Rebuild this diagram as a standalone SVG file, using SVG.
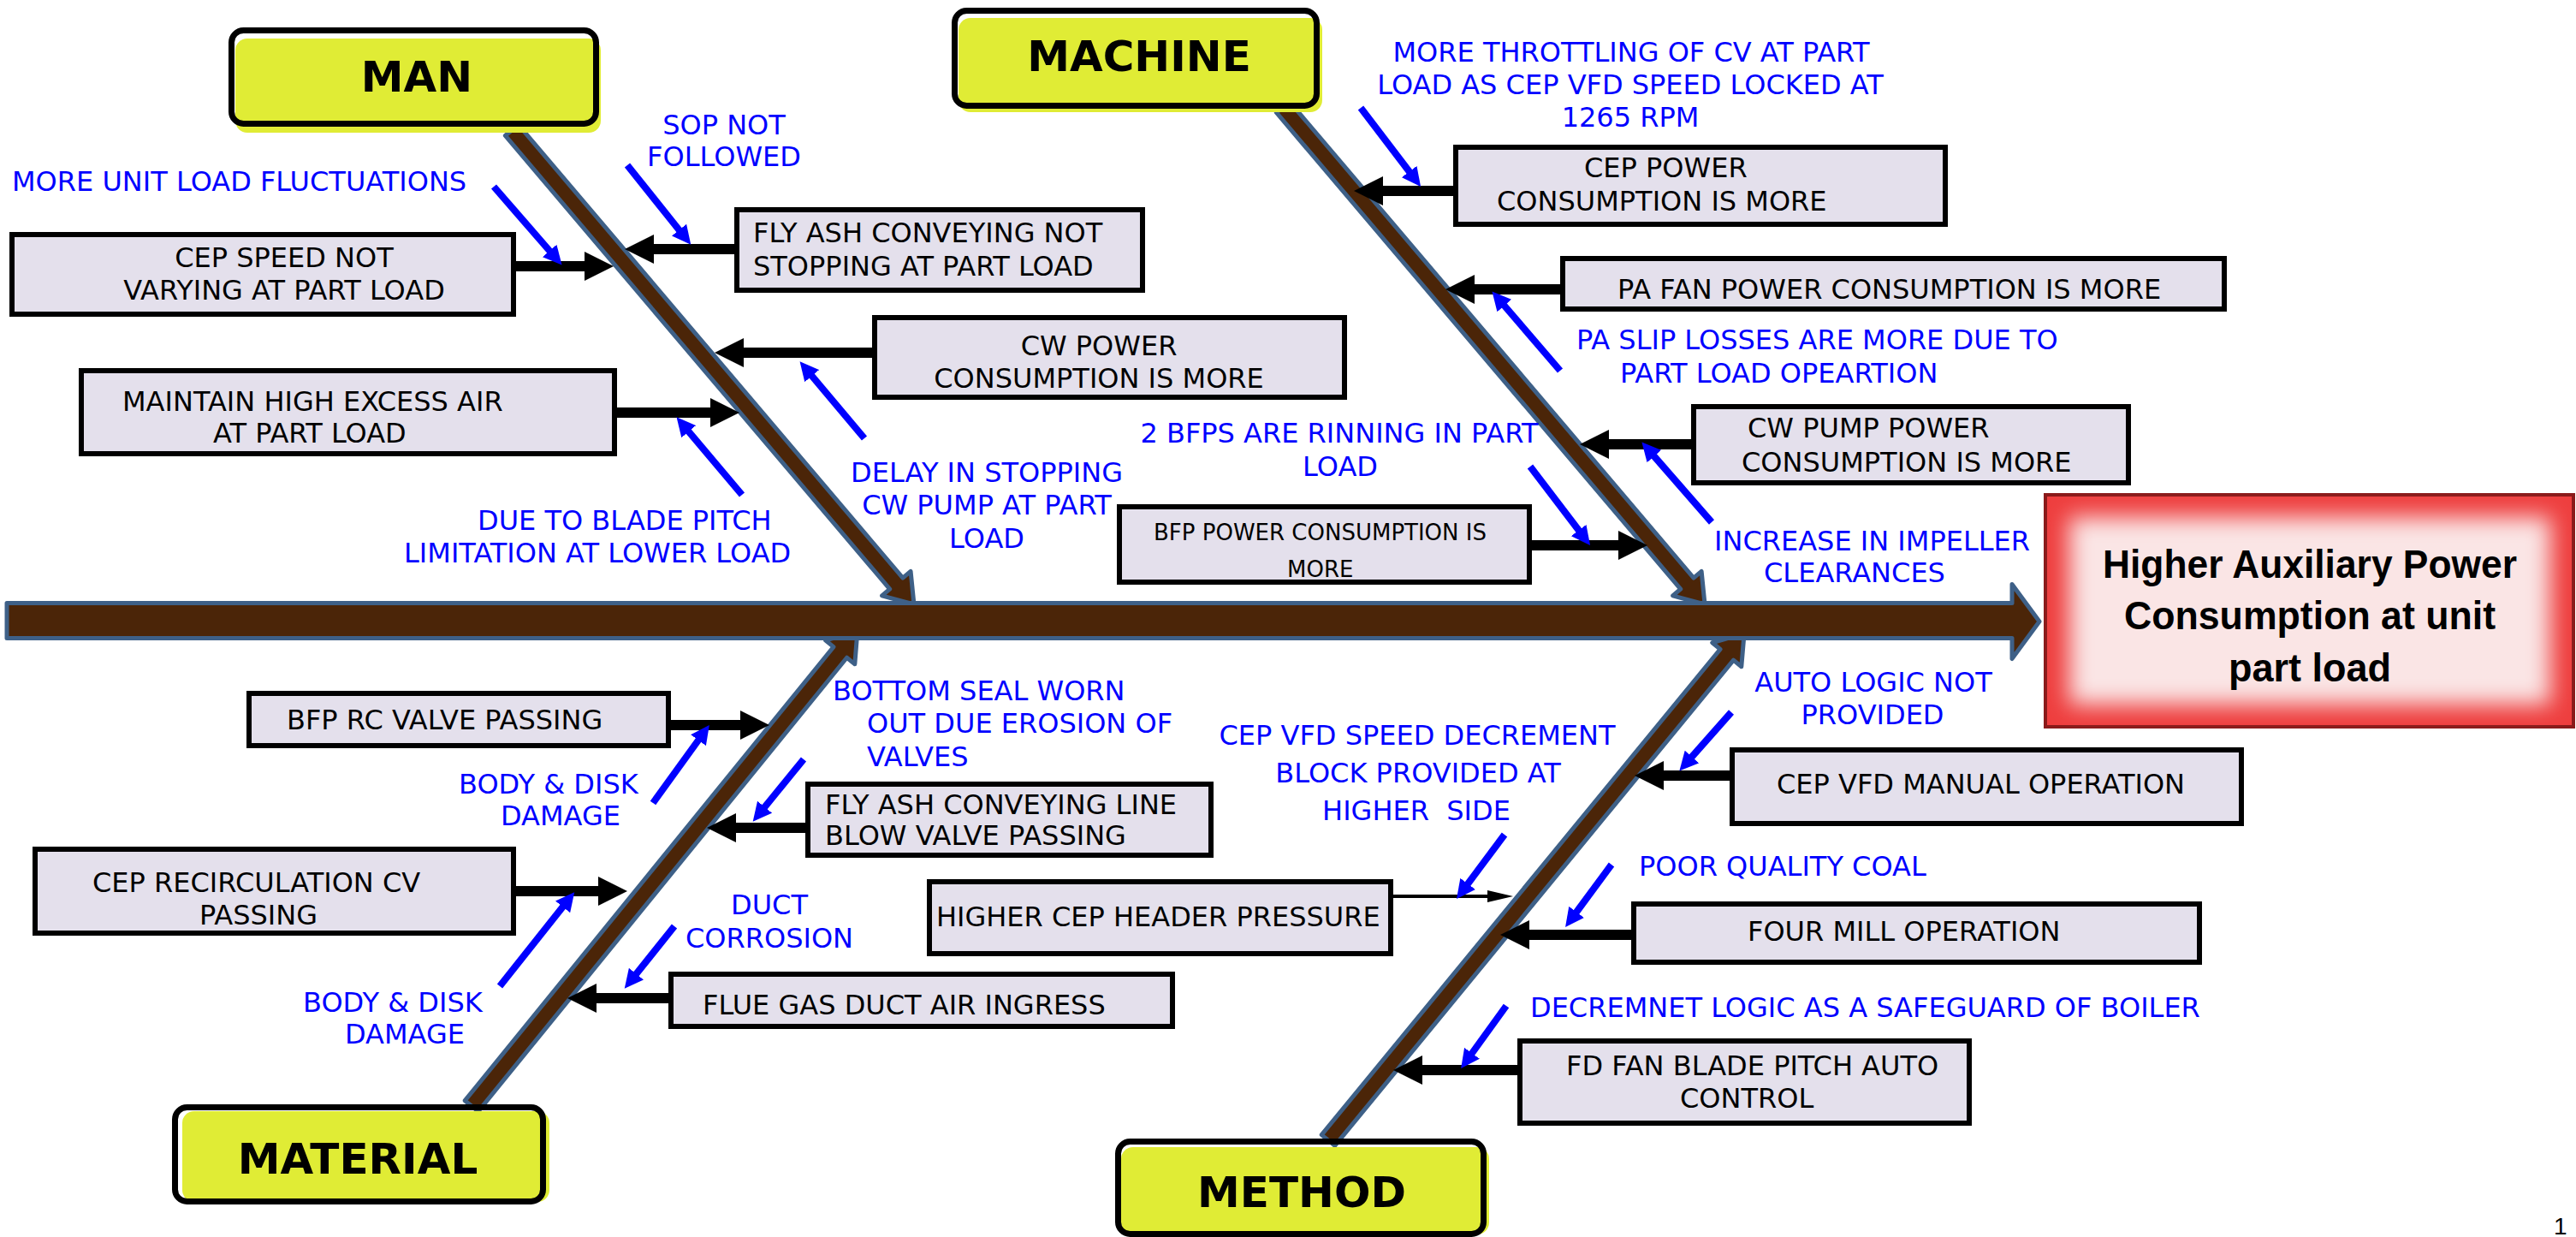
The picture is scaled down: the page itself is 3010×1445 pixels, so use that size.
<svg xmlns="http://www.w3.org/2000/svg" width="3010" height="1445" viewBox="0 0 3010 1445">
<defs>
<style>
.box{fill:#E4E0EC;stroke:#000;stroke-width:6}
.t{font-family:"DejaVu Sans",Verdana,sans-serif;font-size:32px;fill:#000}
.bl{font-family:"DejaVu Sans",Verdana,sans-serif;font-size:32px;fill:#0000FF}
.mid{text-anchor:middle}
.end{text-anchor:end}
.cat{font-family:"DejaVu Sans",Verdana,sans-serif;font-weight:bold;font-size:50px;fill:#000;text-anchor:middle}
.catbg{fill:#E0EC35}
.catln{fill:none;stroke:#000;stroke-width:7}
.bone{fill:#4B2508;stroke:#3E6087;stroke-width:5;stroke-linejoin:round}
.con{stroke:#000;stroke-width:12;fill:none}
.thin{stroke:#000;stroke-width:4;fill:none}
.blu{stroke:#0000FF;stroke-width:8;fill:none}
.eff{font-family:"Liberation Sans",Arial,sans-serif;font-weight:bold;font-size:46px;fill:#000;text-anchor:middle}
</style>
<marker id="ah" markerUnits="userSpaceOnUse" markerWidth="34" markerHeight="34" refX="14" refY="17" orient="auto"><path d="M0,0 L34,17 L0,34 Z" fill="#000"/></marker>
<marker id="ath" markerUnits="userSpaceOnUse" markerWidth="30" markerHeight="14" refX="10" refY="7" orient="auto"><path d="M0,0 L30,7 L0,14 Z" fill="#000"/></marker>
<marker id="bh" markerUnits="userSpaceOnUse" markerWidth="22" markerHeight="22" refX="12" refY="11" orient="auto"><path d="M0,0 L22,11 L0,22 Z" fill="#0000FF"/></marker>
<filter id="soft" x="-20%" y="-30%" width="140%" height="160%"><feGaussianBlur stdDeviation="13"/></filter>
</defs>
<rect width="3010" height="1445" fill="#fff"/>

<g id="connectors">
  <g id="bones">
    <polygon class="bone" transform="translate(598,152) rotate(49.69)" points="0,-10 694.5,-10 694.5,-22 726.5,0 694.5,22 694.5,10 0,10"/>
    <polygon class="bone" transform="translate(1499,125) rotate(49.68)" points="0,-10 730,-10 730,-22 762,0 730,22 730,10 0,10"/>
    <polygon class="bone" transform="translate(551,1292) rotate(-50.9)" points="0,-10 683,-10 683,-22 715,0 683,22 683,10 0,10"/>
    <polygon class="bone" transform="translate(1552,1332) rotate(-50.61)" points="0,-10 734,-10 734,-22 766,0 734,22 734,10 0,10"/>
    <polygon class="bone" points="8,704.5 2351,704.5 2351,682.5 2383,726 2351,769.5 2351,745.5 8,745.5"/>
  </g>
  <g id="cause-links">
    <line class="con" x1="603" y1="311" x2="697" y2="311" marker-end="url(#ah)"/>
    <line class="con" x1="858" y1="291" x2="750" y2="291" marker-end="url(#ah)"/>
    <line class="con" x1="1019" y1="412" x2="855" y2="412" marker-end="url(#ah)"/>
    <line class="con" x1="721" y1="482" x2="844" y2="482" marker-end="url(#ah)"/>
    <line class="con" x1="1698" y1="223" x2="1602" y2="223" marker-end="url(#ah)"/>
    <line class="con" x1="1823" y1="338" x2="1709" y2="338" marker-end="url(#ah)"/>
    <line class="con" x1="1976" y1="519" x2="1866" y2="519" marker-end="url(#ah)"/>
    <line class="con" x1="1790" y1="637" x2="1905" y2="637" marker-end="url(#ah)"/>
    <line class="con" x1="784" y1="847" x2="879" y2="847" marker-end="url(#ah)"/>
    <line class="con" x1="941" y1="967" x2="846" y2="967" marker-end="url(#ah)"/>
    <line class="con" x1="603" y1="1041" x2="713" y2="1041" marker-end="url(#ah)"/>
    <line class="con" x1="781" y1="1166" x2="683" y2="1166" marker-end="url(#ah)"/>
    <line class="thin" x1="1628" y1="1047" x2="1748" y2="1047" marker-end="url(#ath)"/>
    <line class="con" x1="1906" y1="1092" x2="1773" y2="1092" marker-end="url(#ah)"/>
    <line class="con" x1="1773" y1="1250" x2="1648" y2="1250" marker-end="url(#ah)"/>
    <line class="con" x1="2021" y1="906" x2="1930" y2="906" marker-end="url(#ah)"/>
  </g>
  <g id="reason-links">
    <line class="blu" x1="577" y1="218" x2="650" y2="302" marker-end="url(#bh)"/>
    <line class="blu" x1="733" y1="193" x2="801" y2="278" marker-end="url(#bh)"/>
    <line class="blu" x1="1010" y1="512" x2="941" y2="430" marker-end="url(#bh)"/>
    <line class="blu" x1="867" y1="578" x2="797" y2="495" marker-end="url(#bh)"/>
    <line class="blu" x1="1590" y1="126" x2="1654" y2="210" marker-end="url(#bh)"/>
    <line class="blu" x1="1823" y1="433" x2="1750" y2="348" marker-end="url(#bh)"/>
    <line class="blu" x1="2000" y1="610" x2="1925" y2="524" marker-end="url(#bh)"/>
    <line class="blu" x1="1788" y1="545" x2="1852" y2="629" marker-end="url(#bh)"/>
    <line class="blu" x1="763" y1="938" x2="823" y2="855" marker-end="url(#bh)"/>
    <line class="blu" x1="939" y1="887" x2="886" y2="952" marker-end="url(#bh)"/>
    <line class="blu" x1="584" y1="1152" x2="665" y2="1050" marker-end="url(#bh)"/>
    <line class="blu" x1="788" y1="1082" x2="736" y2="1147" marker-end="url(#bh)"/>
    <line class="blu" x1="1758" y1="975" x2="1708" y2="1042" marker-end="url(#bh)"/>
    <line class="blu" x1="1883" y1="1010" x2="1835" y2="1075" marker-end="url(#bh)"/>
    <line class="blu" x1="1760" y1="1175" x2="1713" y2="1240" marker-end="url(#bh)"/>
    <line class="blu" x1="2023" y1="832" x2="1969" y2="893" marker-end="url(#bh)"/>
  </g>
</g>

<g id="cat-man">
  <rect class="catbg" x="275" y="45" width="427" height="110" rx="14"/>
  <rect class="catln" x="270.5" y="35.5" width="426" height="109" rx="14"/>
  <text class="cat" x="487" y="107">MAN</text>
</g>
<g id="cat-machine">
  <rect class="catbg" x="1120" y="21" width="425" height="110" rx="14"/>
  <rect class="catln" x="1115.5" y="12.5" width="423" height="111" rx="14"/>
  <text class="cat" x="1331" y="83">MACHINE</text>
</g>
<g id="cat-material">
  <rect class="catbg" x="213" y="1298" width="429" height="106" rx="14"/>
  <rect class="catln" x="204.5" y="1293.5" width="430" height="110" rx="14"/>
  <text class="cat" x="418" y="1371">MATERIAL</text>
</g>
<g id="cat-method">
  <rect class="catbg" x="1310" y="1340" width="430" height="102" rx="14"/>
  <rect class="catln" x="1306.5" y="1333.5" width="427" height="108" rx="14"/>
  <text class="cat" x="1521" y="1410">METHOD</text>
</g>

<g id="effect">
  <rect x="2390" y="578" width="617" height="271" fill="#EE3E3E" stroke="#8A1A1A" stroke-width="4"/>
  <rect x="2418" y="604" width="562" height="219" fill="#FAE5E5" filter="url(#soft)"/>
  <text class="eff" x="2699" y="675" textLength="484" lengthAdjust="spacingAndGlyphs">Higher Auxiliary Power</text>
  <text class="eff" x="2699" y="735" textLength="434" lengthAdjust="spacingAndGlyphs">Consumption at unit</text>
  <text class="eff" x="2699" y="796" textLength="190" lengthAdjust="spacingAndGlyphs">part load</text>
</g>

<g id="c-cep-speed"><rect class="box" x="14" y="274" width="586" height="93"/>
  <text class="t mid" x="332" y="312">CEP SPEED NOT</text><text class="t mid" x="332" y="350">VARYING AT PART LOAD</text></g>
<g id="c-flyash-stop"><rect class="box" x="861" y="245" width="474" height="94"/>
  <text class="t" x="880" y="283">FLY ASH CONVEYING NOT</text><text class="t" x="880" y="322">STOPPING AT PART LOAD</text></g>
<g id="c-cw-power"><rect class="box" x="1022" y="371" width="549" height="93"/>
  <text class="t mid" x="1284" y="415">CW POWER</text><text class="t mid" x="1284" y="453">CONSUMPTION IS MORE</text></g>
<g id="c-excess-air"><rect class="box" x="95" y="433" width="623" height="97"/>
  <text class="t" x="143" y="480">MAINTAIN HIGH EXCESS AIR</text><text class="t" x="249" y="517">AT PART LOAD</text></g>
<g id="c-cep-power"><rect class="box" x="1701" y="172" width="572" height="90"/>
  <text class="t" x="1851" y="207">CEP POWER</text><text class="t" x="1749" y="246">CONSUMPTION IS MORE</text></g>
<g id="c-pa-fan"><rect class="box" x="1826" y="302" width="773" height="59"/>
  <text class="t" x="1890" y="349">PA FAN POWER CONSUMPTION IS MORE</text></g>
<g id="c-cw-pump"><rect class="box" x="1979" y="475" width="508" height="89"/>
  <text class="t" x="2042" y="511">CW PUMP POWER</text><text class="t" x="2035" y="551">CONSUMPTION IS MORE</text></g>
<g id="c-bfp-power"><rect class="box" x="1308" y="592" width="479" height="88"/>
  <text class="t" x="1348" y="631" style="font-size:26px">BFP POWER CONSUMPTION IS</text><text class="t" x="1504" y="674" style="font-size:26px">MORE</text></g>
<g id="c-bfp-rc"><rect class="box" x="291" y="810" width="490" height="61"/>
  <text class="t" x="335" y="852">BFP RC VALVE PASSING</text></g>
<g id="c-flyash-line"><rect class="box" x="944" y="916" width="471" height="83"/>
  <text class="t" x="964" y="951">FLY ASH CONVEYING LINE</text><text class="t" x="964" y="987">BLOW VALVE PASSING</text></g>
<g id="c-cep-recirc"><rect class="box" x="41" y="992" width="559" height="98"/>
  <text class="t" x="108" y="1042">CEP RECIRCULATION CV</text><text class="t" x="233" y="1080">PASSING</text></g>
<g id="c-flue-gas"><rect class="box" x="784" y="1138" width="586" height="61"/>
  <text class="t" x="821" y="1185">FLUE GAS DUCT AIR INGRESS</text></g>
<g id="c-cep-header"><rect class="box" x="1086" y="1030" width="539" height="84"/>
  <text class="t" x="1094" y="1082">HIGHER CEP HEADER PRESSURE</text></g>
<g id="c-four-mill"><rect class="box" x="1909" y="1056" width="661" height="68"/>
  <text class="t" x="2042" y="1099">FOUR MILL OPERATION</text></g>
<g id="c-fd-fan"><rect class="box" x="1776" y="1216" width="525" height="96"/>
  <text class="t" x="1830" y="1256">FD FAN BLADE PITCH AUTO</text><text class="t" x="1963" y="1294">CONTROL</text></g>
<g id="c-cep-vfd"><rect class="box" x="2024" y="876" width="595" height="86"/>
  <text class="t" x="2076" y="927">CEP VFD MANUAL OPERATION</text></g>

<g id="reasons">
  <g id="r-load-fluct"><text class="bl" x="14" y="223">MORE UNIT LOAD FLUCTUATIONS</text></g>
  <g id="r-sop"><text class="bl mid" x="846" y="157">SOP NOT</text><text class="bl mid" x="846" y="194">FOLLOWED</text></g>
  <g id="r-delay"><text class="bl mid" x="1153" y="563">DELAY IN STOPPING</text><text class="bl mid" x="1153" y="601">CW PUMP AT PART</text><text class="bl mid" x="1153" y="640">LOAD</text></g>
  <g id="r-blade"><text class="bl" x="558" y="619">DUE TO BLADE PITCH</text><text class="bl" x="472" y="657">LIMITATION AT LOWER LOAD</text></g>
  <g id="r-throttle"><text class="bl mid" x="1906" y="72">MORE THROTTLING OF CV AT PART</text><text class="bl mid" x="1905" y="110">LOAD AS CEP VFD SPEED LOCKED AT</text><text class="bl mid" x="1905" y="148">1265 RPM</text></g>
  <g id="r-pa-slip"><text class="bl" x="1842" y="408">PA SLIP LOSSES ARE MORE DUE TO</text><text class="bl" x="1893" y="447">PART LOAD OPEARTION</text></g>
  <g id="r-bfps"><text class="bl mid" x="1565" y="517">2 BFPS ARE RINNING IN PART</text><text class="bl mid" x="1566" y="556">LOAD</text></g>
  <g id="r-impeller"><text class="bl end" x="2372" y="643">INCREASE IN IMPELLER</text><text class="bl" x="2061" y="680">CLEARANCES</text></g>
  <g id="r-seal"><text class="bl" x="973" y="818">BOTTOM SEAL WORN</text><text class="bl" x="1013" y="856">OUT DUE EROSION OF</text><text class="bl" x="1013" y="895">VALVES</text></g>
  <g id="r-body1"><text class="bl" x="536" y="927">BODY &amp; DISK</text><text class="bl" x="585" y="964">DAMAGE</text></g>
  <g id="r-body2"><text class="bl" x="354" y="1182">BODY &amp; DISK</text><text class="bl" x="403" y="1219">DAMAGE</text></g>
  <g id="r-duct"><text class="bl mid" x="899" y="1068">DUCT</text><text class="bl mid" x="899" y="1107">CORROSION</text></g>
  <g id="r-decrement"><text class="bl mid" x="1656" y="870">CEP VFD SPEED DECREMENT</text><text class="bl mid" x="1657" y="914">BLOCK PROVIDED AT</text><text class="bl mid" x="1655" y="958" xml:space="preserve">HIGHER  SIDE</text></g>
  <g id="r-coal"><text class="bl" x="1915" y="1023">POOR QUALITY COAL</text></g>
  <g id="r-safeguard"><text class="bl" x="1788" y="1188">DECREMNET LOGIC AS A SAFEGUARD OF BOILER</text></g>
  <g id="r-auto"><text class="bl mid" x="2189" y="808">AUTO LOGIC NOT</text><text class="bl mid" x="2188" y="846">PROVIDED</text></g>
</g>
<text x="2984" y="1442" style="font-family:'Liberation Sans',Arial,sans-serif;font-size:28px;fill:#000">1</text>
</svg>
